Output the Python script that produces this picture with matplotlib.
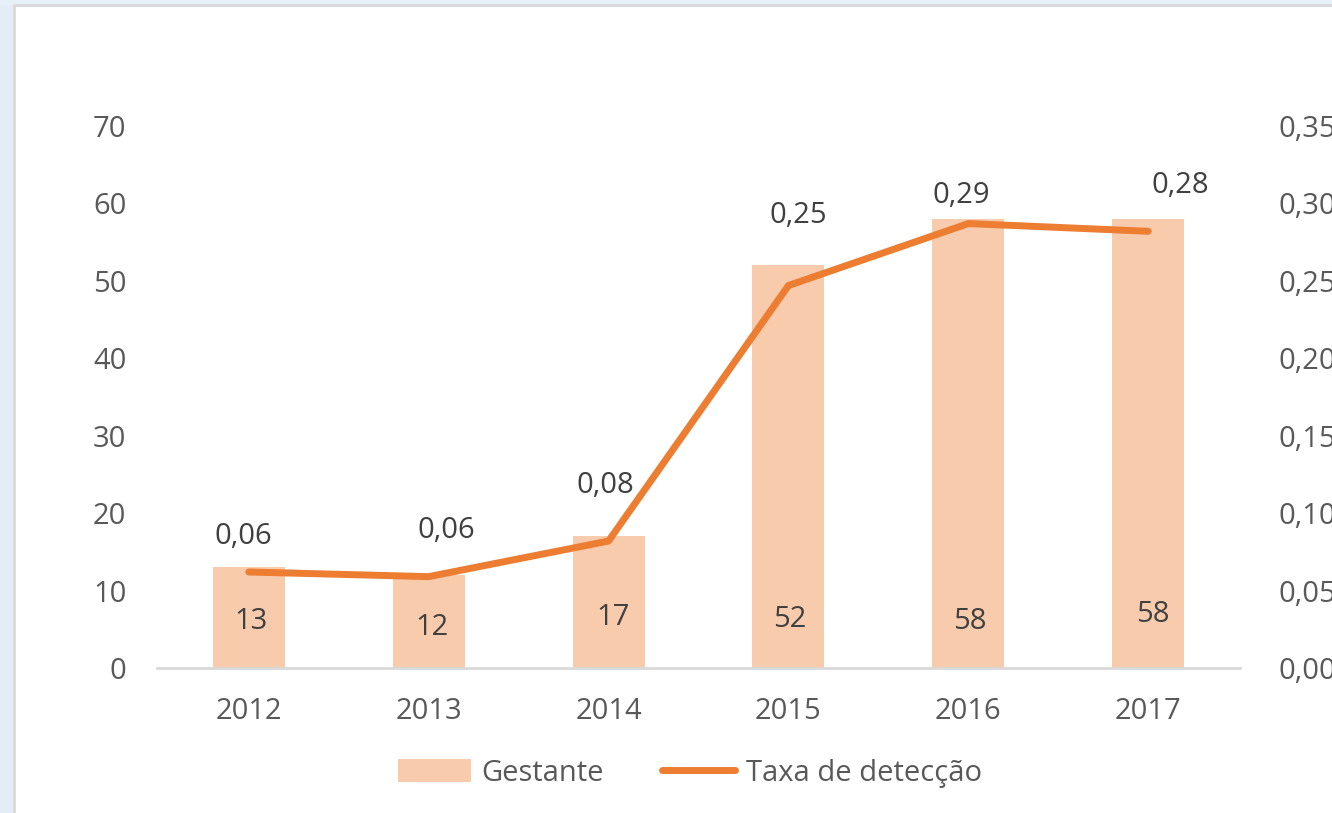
import matplotlib
matplotlib.use("Agg")
import matplotlib.pyplot as plt
from matplotlib.patches import Rectangle
from matplotlib.ticker import FuncFormatter

years = ["2012", "2013", "2014", "2015", "2016", "2017"]
gestante = [13, 12, 17, 52, 58, 58]
taxa = [0.062, 0.059, 0.082, 0.247, 0.287, 0.282]
taxa_labels = ["0,06", "0,06", "0,08", "0,25", "0,29", "0,28"]
# label offsets above the line points (pixels)
taxa_label_dy = [35, 46, 56, 70, 28, 46]
taxa_label_dx = [-5, 18, -3, 10, -7, 32]
bar_label_dx = [2, 3, 4, 1, 1, 5]
bar_label_dy = [-2, -8, 2, 0, -2, 5]

plt.rcParams['font.family'] = ['Open Sans', 'DejaVu Sans']
FS = 21

fig = plt.figure(figsize=(13.32, 8.13), dpi=100)
fig.patch.set_facecolor('white')

# decorative light-blue strip outside the frame
fig.patches.append(Rectangle((0, 0), 14/1332, 1, transform=fig.transFigure,
                             facecolor='#e4edf5', edgecolor='none', zorder=-10))
fig.patches.append(Rectangle((0, 1-5/813), 1, 5/813, transform=fig.transFigure,
                             facecolor='#e8f0f7', edgecolor='none', zorder=-10))
fig.patches.append(Rectangle((14/1332, -0.1), 1.2, 1-5/813+0.1, transform=fig.transFigure,
                             facecolor='white', edgecolor='#d9d9d9', linewidth=2, zorder=-9))

ax = fig.add_axes([157/1332, 1-668/813, 1083/1332, 542/813])
ax.set_facecolor('none')
x = list(range(len(years)))
bars = ax.bar(x, gestante, width=0.4, color='#f8cbad', label='Gestante', zorder=2)
ax.set_xlim(-0.51, len(years) - 0.49)
ax.set_ylim(0, 70)
ax.set_yticks(range(0, 71, 10))
ax.set_xticks(x)
ax.set_xticklabels(years)
for s in ['top', 'right', 'left']:
    ax.spines[s].set_visible(False)
ax.spines['bottom'].set_color('#d9d9d9')
ax.spines['bottom'].set_linewidth(2)
ax.tick_params(axis='both', length=0, labelsize=FS, colors='#595959')
ax.tick_params(axis='y', pad=22)
ax.tick_params(axis='x', pad=21)

for i, v in enumerate(gestante):
    ax.annotate(str(v), (i, 6.3), xytext=(bar_label_dx[i], bar_label_dy[i]),
                textcoords='offset pixels', ha='center', va='center',
                fontsize=FS, color='#404040', zorder=5)

ax2 = ax.twinx()
ax2.set_ylim(0, 0.35)
ax2.set_yticks([i * 0.05 for i in range(8)])
ax2.yaxis.set_major_formatter(FuncFormatter(lambda v, p: f"{v:.2f}".replace('.', ',')))
for s in ['top', 'right', 'left', 'bottom']:
    ax2.spines[s].set_visible(False)
ax2.tick_params(axis='y', length=0, labelsize=FS, colors='#595959', pad=28)
line, = ax2.plot(x, taxa, color='#ed7d31', linewidth=5, solid_capstyle='round',
                 solid_joinstyle='round', label='Taxa de detecção', zorder=4)
for i, v in enumerate(taxa):
    ax2.annotate(taxa_labels[i], (i, v), xytext=(taxa_label_dx[i], taxa_label_dy[i]),
                 textcoords='offset pixels', ha='center', va='center',
                 fontsize=FS, color='#404040')

leg = fig.legend([bars, line], ['Gestante', 'Taxa de detecção'], loc='center',
                 bbox_to_anchor=(0.518, 0.049), ncol=2, frameon=False, fontsize=FS,
                 handlelength=2.5, handleheight=0.85, columnspacing=2.0, handletextpad=0.35)
for t in leg.get_texts():
    t.set_color('#595959')

fig.savefig('out.png', dpi=100, facecolor='white')
